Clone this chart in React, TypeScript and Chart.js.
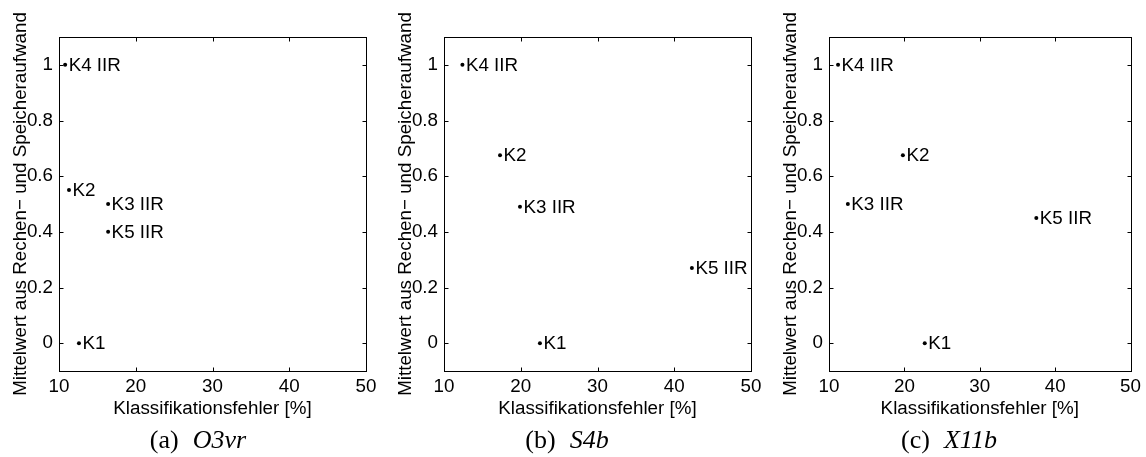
import { useEffect, useRef } from "react";
import { Chart, registerables } from "chart.js";

Chart.register(...registerables);

// ---- data ----
const pointLabels = ["K1", "K2", "K3 IIR", "K4 IIR", "K5 IIR"];
const o3vrX = [12.6, 11.3, 16.4, 10.8, 16.4];
const o3vrY = [0, 0.55, 0.5, 1.0, 0.4];
const s4bX = [22.5, 17.3, 19.9, 12.4, 42.3];
const s4bY = [0, 0.675, 0.49, 1.0, 0.27];
const x11bX = [22.7, 19.8, 12.5, 11.2, 37.5];
const x11bY = [0, 0.675, 0.5, 1.0, 0.45];
const xTicks = [10, 20, 30, 40, 50];
const yTicks = [0, 0.2, 0.4, 0.6, 0.8, 1];
const captionLetters = ["(a)", "(b)", "(c)"];
const captionNames = ["O3vr", "S4b", "X11b"];
const xTitle = "Klassifikationsfehler [%]";
const yTitle = "Mittelwert aus Rechen\u2212 und Speicheraufwand";

const SANS = "'Liberation Sans', Arial, sans-serif";
const FONT_SIZE = 18.8;

const panels = [
  { xs: o3vrX, ys: o3vrY },
  { xs: s4bX, ys: s4bY },
  { xs: x11bX, ys: x11bY },
];

const PANEL_STEP = 385;
const PLOT_LEFT = 59;
const PLOT_RIGHT = 366;
const PLOT_TOP = 37;
const PLOT_BOTTOM = 371;
const H = 457;
const CAPTION_CENTERS = [198, 567 - 385, 949 - 770];

const boxPlugin = {
  id: "boxAndLabels",
  afterDatasetsDraw(chart: any) {
    const { ctx, chartArea } = chart;
    const xs = chart.scales.x;
    const ys = chart.scales.y;
    const l = Math.round(chartArea.left) + 0.5;
    const r = Math.round(chartArea.right) + 0.5;
    const t = Math.round(chartArea.top) + 0.5;
    const b = Math.round(chartArea.bottom) + 0.5;
    ctx.save();
    ctx.strokeStyle = "#000";
    ctx.lineWidth = 1;
    ctx.strokeRect(l, t, r - l, b - t);
    const tl = 4;
    ctx.beginPath();
    xTicks.forEach((v) => {
      const px = Math.round(xs.getPixelForValue(v)) + 0.5;
      ctx.moveTo(px, b);
      ctx.lineTo(px, b - tl);
      ctx.moveTo(px, t);
      ctx.lineTo(px, t + tl);
    });
    yTicks.forEach((v) => {
      const py = Math.round(ys.getPixelForValue(v)) + 0.5;
      ctx.moveTo(l, py);
      ctx.lineTo(l + tl, py);
      ctx.moveTo(r, py);
      ctx.lineTo(r - tl, py);
    });
    ctx.stroke();
    // point labels
    const meta = chart.getDatasetMeta(0);
    ctx.fillStyle = "#000";
    ctx.font = `${FONT_SIZE}px ${SANS}`;
    ctx.textBaseline = "middle";
    ctx.textAlign = "left";
    meta.data.forEach((pt: any, i: number) => {
      ctx.fillText(pointLabels[i], pt.x + 3.5, pt.y + 1);
    });
    ctx.restore();
  },
};

function Panel({ idx }: { idx: number }) {
  const ref = useRef<HTMLCanvasElement>(null);
  const width = idx === 2 ? 1146 - 2 * PANEL_STEP : PANEL_STEP;
  useEffect(() => {
    if (!ref.current) return;
    const p = panels[idx];
    const chart = new Chart(ref.current, {
      type: "scatter",
      data: {
        datasets: [
          {
            data: p.xs.map((x, i) => ({ x, y: p.ys[i] })),
            pointRadius: 2,
            pointBackgroundColor: "#000",
            pointBorderWidth: 0,
            showLine: false,
          },
        ],
      },
      options: {
        animation: false,
        responsive: false,
        devicePixelRatio: 1,
        layout: {
          padding: {
            left: 0,
            top: PLOT_TOP,
            right: width - PLOT_RIGHT,
            bottom: H - PLOT_BOTTOM - 53,
          },
        },
        plugins: {
          legend: { display: false },
          tooltip: { enabled: false },
        },
        scales: {
          x: {
            type: "linear",
            min: 10,
            max: 50,
            afterBuildTicks: (s: any) => {
              s.ticks = xTicks.map((v) => ({ value: v }));
            },
            afterFit: (s: any) => {
              s.height = 53;
            },
            grid: { display: false, drawTicks: false },
            border: { display: false },
            ticks: {
              color: "#000",
              font: { family: SANS, size: FONT_SIZE },
              padding: 5,
              maxRotation: 0,
              callback: (v: any) => String(v),
            },
            title: {
              display: true,
              text: xTitle,
              color: "#000",
              font: { family: SANS, size: FONT_SIZE },
              padding: { top: 0, bottom: 4 },
            },
          },
          y: {
            type: "linear",
            min: -0.1,
            max: 1.1,
            afterBuildTicks: (s: any) => {
              s.ticks = yTicks.map((v) => ({ value: v }));
            },
            afterFit: (s: any) => {
              s.width = PLOT_LEFT;
            },
            grid: { display: false, drawTicks: false },
            border: { display: false },
            ticks: {
              color: "#000",
              font: { family: SANS, size: FONT_SIZE },
              padding: 6,
              callback: (v: any) => String(v),
            },
            title: {
              display: true,
              text: yTitle,
              color: "#000",
              font: { family: SANS, size: FONT_SIZE },
              padding: { top: 10, bottom: 0 },
            },
          },
        },
      },
      plugins: [boxPlugin],
    });
    return () => chart.destroy();
  }, [idx, width]);

  return (
    <div style={{ position: "absolute", left: idx * PANEL_STEP, top: 0, width, height: H }}>
      <canvas ref={ref} width={width} height={H} style={{ display: "block" }} />
      <div
        style={{
          position: "absolute",
          left: CAPTION_CENTERS[idx],
          top: 425,
          transform: "translateX(-50%)",
          whiteSpace: "nowrap",
          fontFamily: "'Liberation Serif', serif",
          fontSize: 26,
          lineHeight: "30px",
          color: "#000",
        }}
      >
        <span>{captionLetters[idx]}</span>
        <span style={{ marginLeft: 14, fontStyle: "italic" }}>{captionNames[idx]}</span>
      </div>
    </div>
  );
}

export default function App() {
  return (
    <div
      style={{
        position: "absolute",
        left: 0,
        top: 0,
        width: 1146,
        height: H,
        background: "#fff",
        overflow: "hidden",
      }}
    >
      {[0, 1, 2].map((i) => (
        <Panel key={i} idx={i} />
      ))}
    </div>
  );
}
